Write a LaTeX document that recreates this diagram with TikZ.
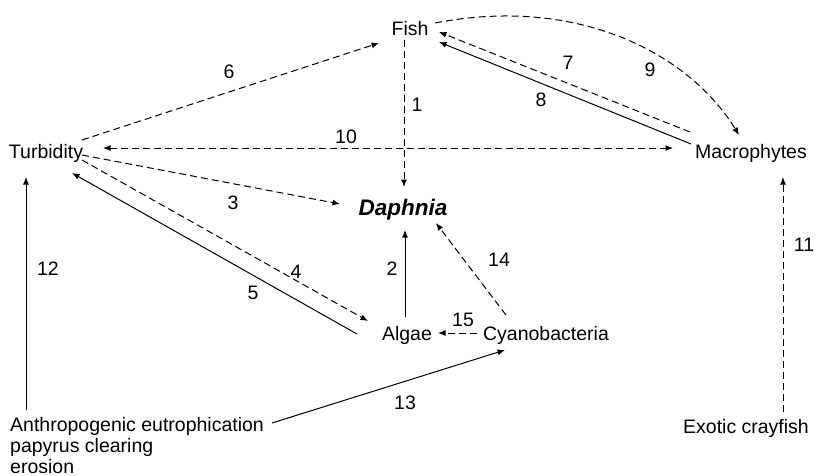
\documentclass[tikz,border=0pt]{standalone}
\usepackage{fontspec}
\setmainfont{Liberation Sans}
\usetikzlibrary{arrows.meta}
\tikzset{
  txt/.style={inner sep=0pt, font=\fontsize{19.5}{21}\selectfont},
  num/.style={inner sep=0pt, font=\fontsize{19.5}{21}\selectfont},
  dlink/.style={line width=1pt, dash pattern=on 7pt off 4pt, -{Latex[length=7.5pt,width=6pt]}},
  slink/.style={line width=1pt, -{Latex[length=7.5pt,width=6pt]}},
}
\begin{document}
\begin{tikzpicture}[x=1pt,y=-1pt]
\useasboundingbox (0,0) rectangle (816,476);
\node[txt, anchor=base] (fish) at (410,36){Fish};
\node[txt, anchor=base] (turb) at (46,158){Turbidity};
\node[txt, anchor=base] (macro) at (751,158){Macrophytes};
\node[inner sep=0pt, anchor=base, font=\fontsize{22.5}{24}\selectfont\bfseries\itshape] (daph) at (403,215){Daphnia};
\node[txt, anchor=base] (alg) at (407,340){Algae};
\node[txt, anchor=base] (cyan) at (546,340){Cyanobacteria};
\node[txt, anchor=base] (cray) at (746,433){Exotic crayfish};
\node[txt, anchor=north west, align=left] (anth) at (10,417){Anthropogenic eutrophication\\papyrus clearing\\erosion};
% links
\draw[dlink]([shift={(-6,4)}]fish.base) -- ([shift={(1,-28)}]daph.base);
\draw[slink]([shift={(-2,-23)}]alg.base) -- ([shift={(2,15)}]daph.base);
\draw[dlink]([shift={(36,-3)}]turb.base) -- ([shift={(-63,-11)}]daph.base);
\draw[dlink]([shift={(36,2)}]turb.base) -- ([shift={(-39,-19)}]alg.base);
\draw[slink]([shift={(-50,-6)}]alg.base) -- ([shift={(26,15)}]turb.base);
\draw[dlink]([shift={(36,-18)}]turb.base) -- ([shift={(-31,7)}]fish.base);
\draw[dlink]([shift={(-61,-26)}]macro.base) -- ([shift={(29,-4)}]fish.base);
\draw[slink]([shift={(-60,-14)}]macro.base) -- ([shift={(29,6)}]fish.base);
\draw[dlink]([shift={(25,-13)}]fish.base) .. controls (580,-5) and (690,55) .. ([shift={(-12,-23)}]macro.base);
\draw[dlink, {Latex[length=7.5pt,width=6pt]}-{Latex[length=7.5pt,width=6pt]}]([shift={(57,-10)}]turb.base) -- ([shift={(-78,-10)}]macro.base);
\draw[dlink]([shift={(37,-21)}]cray.base) -- ([shift={(32,19)}]macro.base);
\draw[slink]([shift={(16,-7)}]anth.north west) -- ([shift={(-20,19)}]turb.base);
\draw[slink]([shift={(262,6)}]anth.north west) -- ([shift={(-41,10)}]cyan.base);
\draw[dlink]([shift={(-40,-25)}]cyan.base) -- ([shift={(33,8)}]daph.base);
\draw[dlink]([shift={(-69,-7)}]cyan.base) -- ([shift={(31,-7)}]alg.base);
% numbers
\node[num] (n1) at (417,105){1};
\node[num] (n2) at (392,269){2};
\node[num] (n3) at (233,203){3};
\node[num] (n4) at (296,272){4};
\node[num] (n5) at (253,293){5};
\node[num] (n6) at (229,72){6};
\node[num] (n7) at (568,63){7};
\node[num] (n8) at (541,100){8};
\node[num] (n9) at (650,70){9};
\node[num] (n10) at (346,137){10};
\node[num] (n11) at (804,245){11};
\node[num] (n12) at (48,269){12};
\node[num] (n13) at (405,403){13};
\node[num] (n14) at (499,260){14};
\node[num] (n15) at (463,320){15};
\end{tikzpicture}
\end{document}
